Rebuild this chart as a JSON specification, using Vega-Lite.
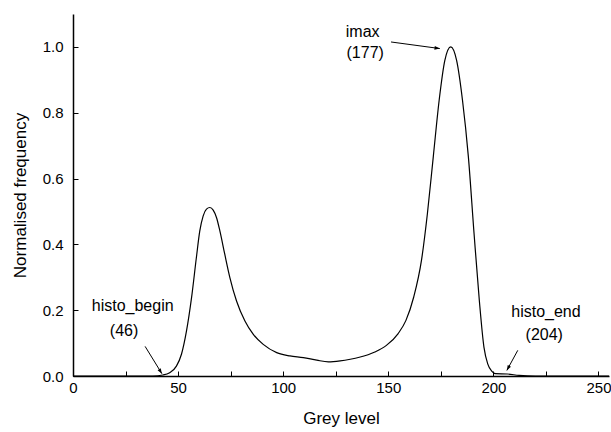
{
  "$schema": "https://vega.github.io/schema/vega-lite/v6.json",
  "width": 536,
  "height": 362,
  "autosize": "none",
  "padding": {"left": 73, "top": 14, "right": 2, "bottom": 56},
  "background": "white",
  "config": {
    "view": {"stroke": null},
    "font": "Liberation Sans",
    "axis": {
      "domainColor": "black",
      "domainWidth": 1.5,
      "tickColor": "black",
      "tickWidth": 1,
      "tickSize": -5,
      "grid": false,
      "labelColor": "black",
      "labelFont": "Liberation Sans",
      "labelFontSize": 15,
      "titleFont": "Liberation Sans",
      "titleFontSize": 17,
      "titleFontWeight": "normal",
      "titleColor": "black"
    }
  },
  "datasets": {
    "curve": [
      {"g": 0, "f": 0}, {"g": 20, "f": 0}, {"g": 38, "f": 0}, {"g": 42.8, "f": 0.003},
      {"g": 46.0, "f": 0.01}, {"g": 49.2, "f": 0.03}, {"g": 51.6, "f": 0.066},
      {"g": 54.0, "f": 0.137}, {"g": 56.4, "f": 0.238}, {"g": 58.7, "f": 0.36},
      {"g": 60.3, "f": 0.44}, {"g": 61.9, "f": 0.486}, {"g": 63.5, "f": 0.507},
      {"g": 65.1, "f": 0.512}, {"g": 66.7, "f": 0.504}, {"g": 68.3, "f": 0.481},
      {"g": 69.9, "f": 0.44}, {"g": 72.2, "f": 0.37}, {"g": 74.6, "f": 0.3},
      {"g": 77.8, "f": 0.228}, {"g": 81.8, "f": 0.167}, {"g": 85.7, "f": 0.127},
      {"g": 90.5, "f": 0.096}, {"g": 96.9, "f": 0.071}, {"g": 103.2, "f": 0.061},
      {"g": 109.6, "f": 0.056}, {"g": 116.0, "f": 0.048}, {"g": 121.5, "f": 0.043},
      {"g": 127.1, "f": 0.046}, {"g": 131.9, "f": 0.051}, {"g": 136.2, "f": 0.057},
      {"g": 143.6, "f": 0.073}, {"g": 149.1, "f": 0.093}, {"g": 154.7, "f": 0.129},
      {"g": 158.4, "f": 0.169}, {"g": 162.1, "f": 0.24}, {"g": 165.8, "f": 0.352},
      {"g": 168.6, "f": 0.493}, {"g": 171.4, "f": 0.666}, {"g": 174.2, "f": 0.838},
      {"g": 176.9, "f": 0.959}, {"g": 179.7, "f": 1.0}, {"g": 182.5, "f": 0.959},
      {"g": 185.3, "f": 0.838}, {"g": 188.1, "f": 0.666}, {"g": 190.8, "f": 0.433},
      {"g": 193.3, "f": 0.23}, {"g": 195.5, "f": 0.088}, {"g": 197.3, "f": 0.037},
      {"g": 199.2, "f": 0.015}, {"g": 201.0, "f": 0.007}, {"g": 206.6, "f": 0.006},
      {"g": 212.2, "f": 0.002}, {"g": 220, "f": 0}, {"g": 255, "f": 0}
    ],
    "labels": [
      {"g": 137.8, "f": 1.044, "text": "imax"},
      {"g": 139, "f": 0.98, "text": "(177)"},
      {"g": 28.4, "f": 0.212, "text": "histo_begin"},
      {"g": 24.3, "f": 0.137, "text": "(46)"},
      {"g": 225, "f": 0.195, "text": "histo_end"},
      {"g": 224.2, "f": 0.124, "text": "(204)"}
    ],
    "arrows": [
      {"name": "imax", "g": 151.3, "f": 1.015, "g2": 174.5, "f2": 0.995},
      {"name": "begin", "g": 34.3, "f": 0.09, "g2": 42.3, "f2": 0.007},
      {"name": "end", "g": 211.6, "f": 0.078, "g2": 206.4, "f2": 0.017}
    ]
  },
  "layer": [
    {
      "data": {"name": "curve"},
      "mark": {"type": "line", "color": "black", "strokeWidth": 1.2, "interpolate": "monotone"},
      "encoding": {
        "x": {"field": "g", "type": "quantitative", "scale": {"domain": [0, 255], "nice": false},
          "axis": {"title": "Grey level", "values": [0, 25, 50, 75, 100, 125, 150, 175, 200, 225, 250],
            "labelExpr": "datum.value % 50 == 0 ? datum.label : ''", "labelPadding": 9, "titlePadding": 15, "labelFlush": false}},
        "y": {"field": "f", "type": "quantitative", "scale": {"domain": [0, 1.1], "nice": false},
          "axis": {"title": "Normalised frequency", "values": [0, 0.1, 0.2, 0.3, 0.4, 0.5, 0.6, 0.7, 0.8, 0.9, 1.0, 1.1],
            "labelExpr": "round(datum.value * 10) % 2 == 0 && datum.value < 1.05 ? format(datum.value, '.1f') : ''", "labelPadding": 15, "titlePadding": 13, "labelFlush": false}}
      }
    },
    {
      "data": {"name": "labels"},
      "mark": {"type": "text", "fontSize": 16, "font": "Liberation Sans", "color": "black"},
      "encoding": {
        "x": {"field": "g", "type": "quantitative"},
        "y": {"field": "f", "type": "quantitative"},
        "text": {"field": "text"}
      }
    },
    {
      "data": {"name": "arrows"},
      "mark": {"type": "rule", "color": "black", "strokeWidth": 1},
      "encoding": {
        "x": {"field": "g", "type": "quantitative"},
        "y": {"field": "f", "type": "quantitative"},
        "x2": {"field": "g2"},
        "y2": {"field": "f2"}
      }
    },
    {
      "data": {"name": "arrows"},
      "transform": [{"filter": "datum.name == 'imax'"}],
      "mark": {"type": "point", "shape": "M0,0 L-1,-0.35 L-1,0.35 Z", "filled": true, "color": "black", "size": 110, "opacity": 1},
      "encoding": {
        "x": {"field": "g2", "type": "quantitative"},
        "y": {"field": "f2", "type": "quantitative"},
        "angle": {"value": 7.7}
      }
    },
    {
      "data": {"name": "arrows"},
      "transform": [{"filter": "datum.name == 'begin'"}],
      "mark": {"type": "point", "shape": "M0,0 L-1,-0.35 L-1,0.35 Z", "filled": true, "color": "black", "size": 110, "opacity": 1},
      "encoding": {
        "x": {"field": "g2", "type": "quantitative"},
        "y": {"field": "f2", "type": "quantitative"},
        "angle": {"value": 58.4}
      }
    },
    {
      "data": {"name": "arrows"},
      "transform": [{"filter": "datum.name == 'end'"}],
      "mark": {"type": "point", "shape": "M0,0 L-1,-0.35 L-1,0.35 Z", "filled": true, "color": "black", "size": 110, "opacity": 1},
      "encoding": {
        "x": {"field": "g2", "type": "quantitative"},
        "y": {"field": "f2", "type": "quantitative"},
        "angle": {"value": 118.5}
      }
    }
  ]
}
